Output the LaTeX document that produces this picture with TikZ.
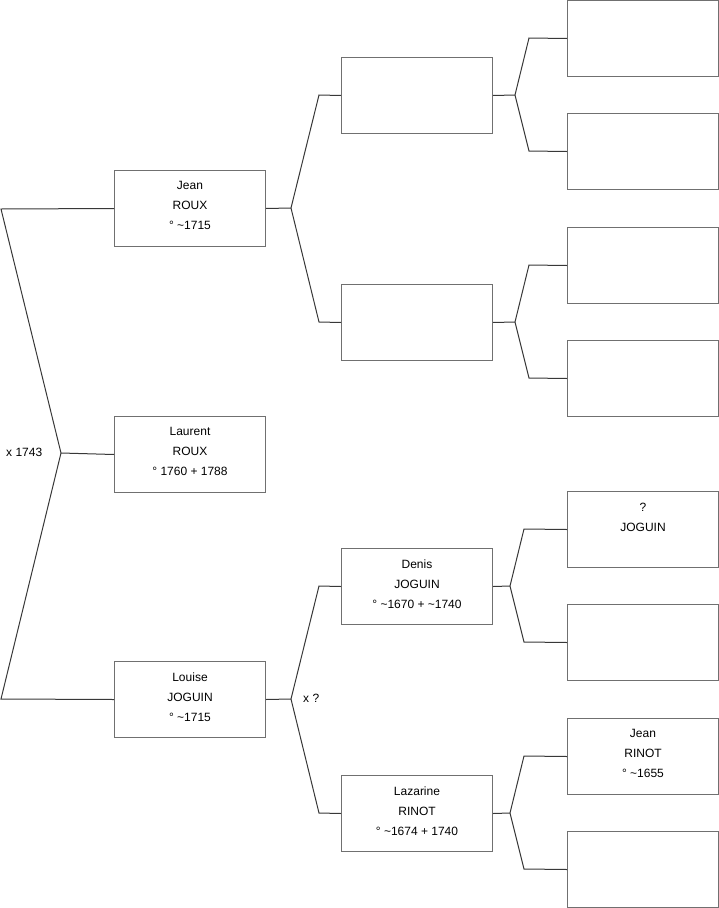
\documentclass[tikz,border=0pt]{standalone}
\usepackage{fontspec}
\setmainfont{Liberation Sans}
\definecolor{boxgray}{HTML}{707070}
\definecolor{linegray}{HTML}{383838}
\begin{document}
\begin{tikzpicture}[x=1pt,y=-1pt,
  person/.style={draw=boxgray, line width=1pt, minimum width=151pt, minimum height=76pt, inner sep=0pt, anchor=north west},
  ptext/.style={anchor=north, align=center, font=\fontsize{12}{20}\selectfont, inner sep=0pt, text=black},
  note/.style={anchor=west, font=\fontsize{12}{14}\selectfont, inner sep=0pt, text=black},
  link/.style={draw=linegray, line width=1pt}]
\useasboundingbox (0,0) rectangle (719,908);
% generation 1
\node[person] (jean) at (114,170) {};
\node[person] (laurent) at (114,416) {};
\node[person] (louise) at (114,661) {};
% generation 2
\node[person] (pa) at (341,57) {};
\node[person] (pb) at (341,284) {};
\node[person] (denis) at (341,548) {};
\node[person] (lazarine) at (341,775) {};
% generation 3
\node[person] (ga) at (567,0) {};
\node[person] (gb) at (567,113) {};
\node[person] (gc) at (567,227) {};
\node[person] (gd) at (567,340) {};
\node[person] (ge) at (567,491) {};
\node[person] (gf) at (567,604) {};
\node[person] (gg) at (567,718) {};
\node[person] (gh) at (567,831) {};
% texts
\node[ptext] (tjean) at ([yshift=-11.5pt]jean.north) {Jean\\ROUX\\° \textasciitilde1715};
\node[ptext] (tlaurent) at ([yshift=-11.5pt]laurent.north) {Laurent\\ROUX\\° 1760 + 1788};
\node[ptext] (tlouise) at ([yshift=-11.5pt]louise.north) {Louise\\JOGUIN\\° \textasciitilde1715};
\node[ptext] (tdenis) at ([yshift=-11.5pt]denis.north) {Denis\\JOGUIN\\° \textasciitilde1670 + \textasciitilde1740};
\node[ptext] (tlazarine) at ([yshift=-11.5pt]lazarine.north) {Lazarine\\RINOT\\° \textasciitilde1674 + 1740};
\node[ptext] (tge) at ([yshift=-11.5pt]ge.north) {?\\JOGUIN};
\node[ptext] (tgg) at ([yshift=-11.5pt]gg.north) {Jean\\RINOT\\° \textasciitilde1655};
% connectors
\coordinate (c0a) at (1,209);
\coordinate (c0) at (61,453);
\coordinate (c0b) at (1,699);
\draw[link] (jean.west) -- (c0a) -- (c0) -- (c0b) -- (louise.west);
\draw[link] (c0) -- (laurent.west);
\node[note] (m1) at (6,452) {x 1743};

\coordinate (c1) at (291,208);
\coordinate (c1a) at (319,95);
\coordinate (c1b) at (319,322);
\draw[link] (jean.east) -- (c1);
\draw[link] (pa.west) -- (c1a) -- (c1) -- (c1b) -- (pb.west);

\coordinate (c2) at (515,95);
\coordinate (c2a) at (529,38);
\coordinate (c2b) at (529,151);
\draw[link] (pa.east) -- (c2);
\draw[link] (ga.west) -- (c2a) -- (c2) -- (c2b) -- (gb.west);

\coordinate (c3) at (515,322);
\coordinate (c3a) at (529,265);
\coordinate (c3b) at (529,378);
\draw[link] (pb.east) -- (c3);
\draw[link] (gc.west) -- (c3a) -- (c3) -- (c3b) -- (gd.west);

\coordinate (c4) at (291,699);
\coordinate (c4a) at (319,586);
\coordinate (c4b) at (319,813);
\draw[link] (louise.east) -- (c4);
\draw[link] (denis.west) -- (c4a) -- (c4) -- (c4b) -- (lazarine.west);
\node[note] (m2) at (303,698) {x ?};

\coordinate (c5) at (510,586);
\coordinate (c5a) at (524,529);
\coordinate (c5b) at (524,642);
\draw[link] (denis.east) -- (c5);
\draw[link] (ge.west) -- (c5a) -- (c5) -- (c5b) -- (gf.west);

\coordinate (c6) at (510,813);
\coordinate (c6a) at (524,756);
\coordinate (c6b) at (524,869);
\draw[link] (lazarine.east) -- (c6);
\draw[link] (gg.west) -- (c6a) -- (c6) -- (c6b) -- (gh.west);
\end{tikzpicture}
\end{document}
